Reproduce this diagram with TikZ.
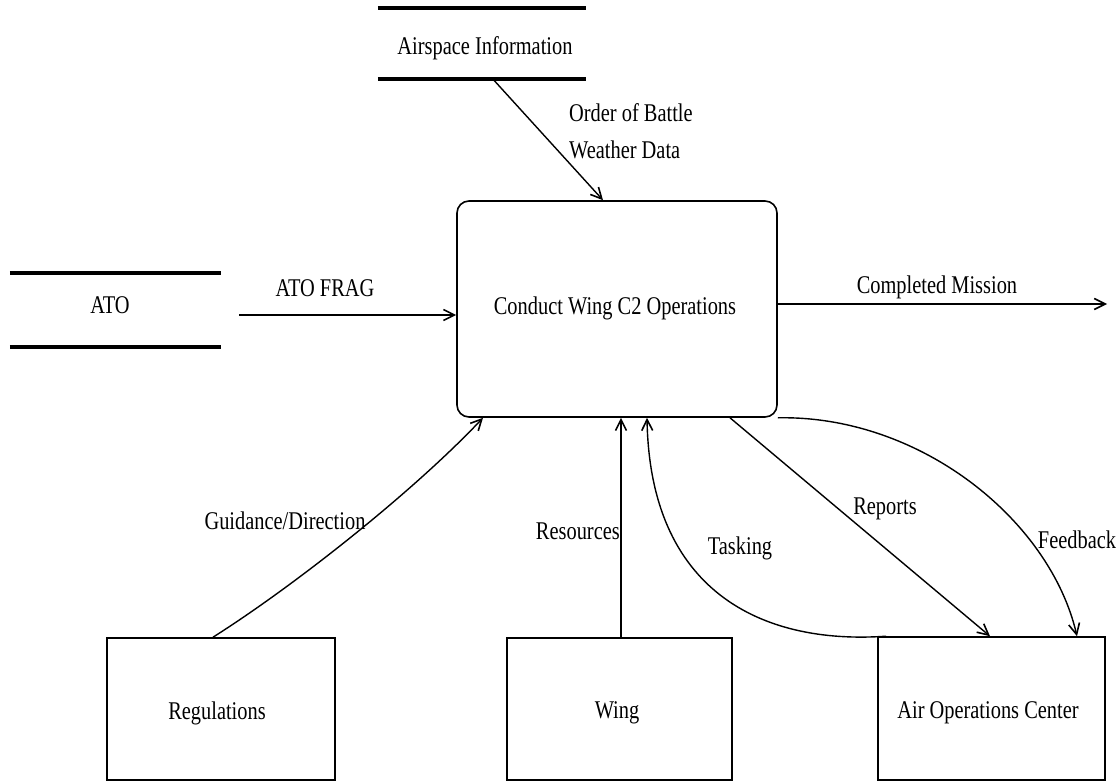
\documentclass[tikz,border=0pt]{standalone}
\usepackage{fontspec}
\setmainfont{Liberation Serif}[FakeStretch=0.8]
\usetikzlibrary{arrows.meta,calc}
\begin{document}
\begin{tikzpicture}[x=1pt,y=-1pt,
  every node/.style={font=\fontsize{25.5}{30}\selectfont, inner sep=0pt},
  process/.style={draw, line width=1.6pt, rounded corners=12pt},
  entity/.style={draw, line width=1.6pt},
  storebar/.style={line width=4pt},
  flow/.style={line width=1.4pt, -{Straight Barb[length=11pt,width=11pt,line width=1.6pt]}}]
  \useasboundingbox (0,0) rectangle (1120,782);

  % process
  \node[process, minimum width=320pt, minimum height=216pt] (main) at (617,309) {};
  \node (maintxt) at (615,308) {Conduct Wing C2 Operations};

  % data stores: two horizontal bars each
  \node[minimum width=211pt, minimum height=74pt] (ato) at (115.5,310) {};
  \draw[storebar] (ato.north west) -- (ato.north east);
  \draw[storebar] (ato.south west) -- (ato.south east);
  \node (atotxt) at (110,305) {ATO};

  \node[minimum width=208pt, minimum height=71pt] (air) at (482,43.5) {};
  \draw[storebar] (air.north west) -- (air.north east);
  \draw[storebar] (air.south west) -- (air.south east);
  \node (airtxt) at (485,48) {Airspace Information};

  % external entities
  \node[entity, minimum width=228pt, minimum height=142pt] (reg) at (221,709) {};
  \node (regtxt) at (217,713) {Regulations};
  \node[entity, minimum width=225pt, minimum height=142pt] (wing) at (619.5,709) {};
  \node (wingtxt) at (617,713) {Wing};
  \node[entity, minimum width=227pt, minimum height=143pt] (aoc) at (991.5,708.5) {};
  \node (aoctxt) at (988,713) {Air Operations Center};

  \coordinate (out) at (1107,304);

  % flows
  \draw[flow] ($(ato.east)+(18,5)$) -- ($(main.west)+(0,6)$);
  \node (lfrag) at (325,288) {ATO FRAG};

  \draw[flow] ($(main.east)+(0,-5)$) -- (out);
  \node (lcomp) at (937,287) {Completed Mission};

  \draw[flow] ($(air.south)+(11,0)$) -- ($(main.north)+(-14,0)$);
  \node[anchor=west] (lob) at (569,113) {Order of Battle};
  \node[anchor=west] (lwd) at (569,150) {Weather Data};

  \draw[flow] ($(reg.north)+(-8,0)$) .. controls (297,584) and (415,490) .. ($(main.south)+(-134,0)$);
  \node (lgd) at (285,521) {Guidance/Direction};

  \draw[flow] (wing.north -| 621,0) -- (main.south -| 621,0);
  \node[anchor=east] (lres) at (620,531) {Resources};

  \draw[flow] ($(aoc.north west)+(9,0)$) .. controls (760,645) and (650,590) .. ($(main.south)+(30,0)$);
  \node (ltask) at (740,548) {Tasking};

  \draw[flow] ($(main.south)+(113,0)$) -- ($(aoc.north)+(-1.5,0)$);
  \node (lrep) at (885,509) {Reports};

  \draw[flow] (main.south east) .. controls (920,415) and (1050,520) .. ($(aoc.north)+(85.5,0)$);
  \node (lfb) at (1077,540) {Feedback};
\end{tikzpicture}
\end{document}
